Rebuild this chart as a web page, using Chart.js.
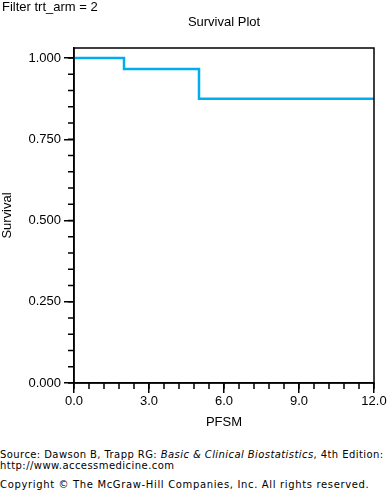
<!DOCTYPE html>
<html><head><meta charset="utf-8">
<script src="https://cdn.jsdelivr.net/npm/chart.js@4/dist/chart.umd.min.js"></script>
<style>
html,body{margin:0;padding:0;background:#fff;}
body{width:388px;height:492px;position:relative;overflow:hidden;font-family:"Liberation Sans",Arial,sans-serif;}
#wrap{position:absolute;left:0;top:0;width:388px;height:430px;}
.t{position:absolute;white-space:nowrap;color:#000;}
#filter{left:2px;top:-1px;font-size:13px;}
#title{left:224px;top:14px;font-size:13px;transform:translateX(-50%);}
.foot{position:absolute;left:0;font-family:"DejaVu Sans",Verdana,sans-serif;font-size:10px;color:#000;white-space:nowrap;}
</style></head>
<body>
<div id="wrap"><canvas id="c" width="388" height="430"></canvas></div>
<div class="t" id="filter">Filter trt_arm = 2</div>
<div class="t" id="title">Survival Plot</div>
<div class="foot" style="top:449px;letter-spacing:0.42px;">Source: Dawson B, Trapp RG: <i>Basic &amp; Clinical Biostatistics</i>, 4th Edition:</div>
<div class="foot" style="top:460px;letter-spacing:0.45px;">http://www.accessmedicine.com</div>
<div class="foot" style="top:479px;letter-spacing:0.65px;">Copyright © The McGraw-Hill Companies, Inc. All rights reserved.</div>
<script>
const timeValues = [0, 2, 5, 7, 9.4, 12];
const survivalValues = [1.0, 0.966, 0.875, 0.875, 0.875, 0.875];
const xTicks = [0, 3, 6, 9, 12];
const yTicks = [0, 0.25, 0.5, 0.75, 1.0];
const xMinorStep = 0.6;
const yMinorStep = 0.05;

const frameAndMinor = {
  id: 'frameAndMinor',
  afterDraw(chart) {
    const ctx = chart.ctx, a = chart.chartArea;
    const xs = chart.scales.x, ys = chart.scales.y;
    ctx.save();
    ctx.strokeStyle = '#000';
    ctx.lineWidth = 1.5;
    ctx.strokeRect(a.left, a.top, a.right - a.left, a.bottom - a.top);
    ctx.beginPath();
    for (let i = 0; i <= Math.round((xs.max - xs.min) / xMinorStep); i++) {
      const px = xs.getPixelForValue(xs.min + i * xMinorStep);
      ctx.moveTo(px, a.bottom); ctx.lineTo(px, a.bottom + 6);
    }
    for (let i = 0; i * yMinorStep <= 1.0001; i++) {
      const py = ys.getPixelForValue(i * yMinorStep);
      ctx.moveTo(a.left, py); ctx.lineTo(a.left - 6, py);
    }
    ctx.stroke();
    ctx.restore();
  }
};

new Chart(document.getElementById('c'), {
  type: 'line',
  data: {
    datasets: [{
      data: timeValues.map((t, i) => ({x: t, y: survivalValues[i]})),
      stepped: 'before',
      borderColor: '#00AEEF',
      borderWidth: 2.5,
      pointRadius: 0,
      fill: false
    }]
  },
  options: {
    responsive: false,
    animation: false,
    devicePixelRatio: 1,
    layout: {padding: {left: 0, top: 48, right: 14, bottom: 0}},
    plugins: {legend: {display: false}, tooltip: {enabled: false}},
    scales: {
      x: {
        type: 'linear', min: 0, max: 12,
        afterBuildTicks: s => { s.ticks = xTicks.map(v => ({value: v})); },
        afterFit: s => { s.height = 47; },
        grid: {drawOnChartArea: false, tickLength: 10, color: '#000', lineWidth: 1.5},
        border: {display: true, color: '#000', width: 1.5},
        ticks: {color: '#000', font: {family: 'Liberation Sans', size: 13}, padding: 1, maxRotation: 0,
          callback: v => Number(v).toFixed(1)},
        title: {display: true, text: 'PFSM', color: '#000', font: {family: 'Liberation Sans', size: 13}, padding: {top: 0, bottom: 0}}
      },
      y: {
        type: 'linear', min: 0, max: 1.031,
        afterBuildTicks: s => { s.ticks = yTicks.map(v => ({value: v})); },
        afterFit: s => { s.width = 74; },
        grid: {drawOnChartArea: false, tickLength: 10, color: '#000', lineWidth: 1.5},
        border: {display: true, color: '#000', width: 1.5},
        ticks: {color: '#000', font: {family: 'Liberation Sans', size: 13}, padding: 3,
          callback: v => Number(v).toFixed(3)},
        title: {display: true, text: 'Survival', color: '#000', font: {family: 'Liberation Sans', size: 13}, padding: {top: 0, bottom: 0}}
      }
    }
  },
  plugins: [frameAndMinor]
});
</script>
</body></html>
